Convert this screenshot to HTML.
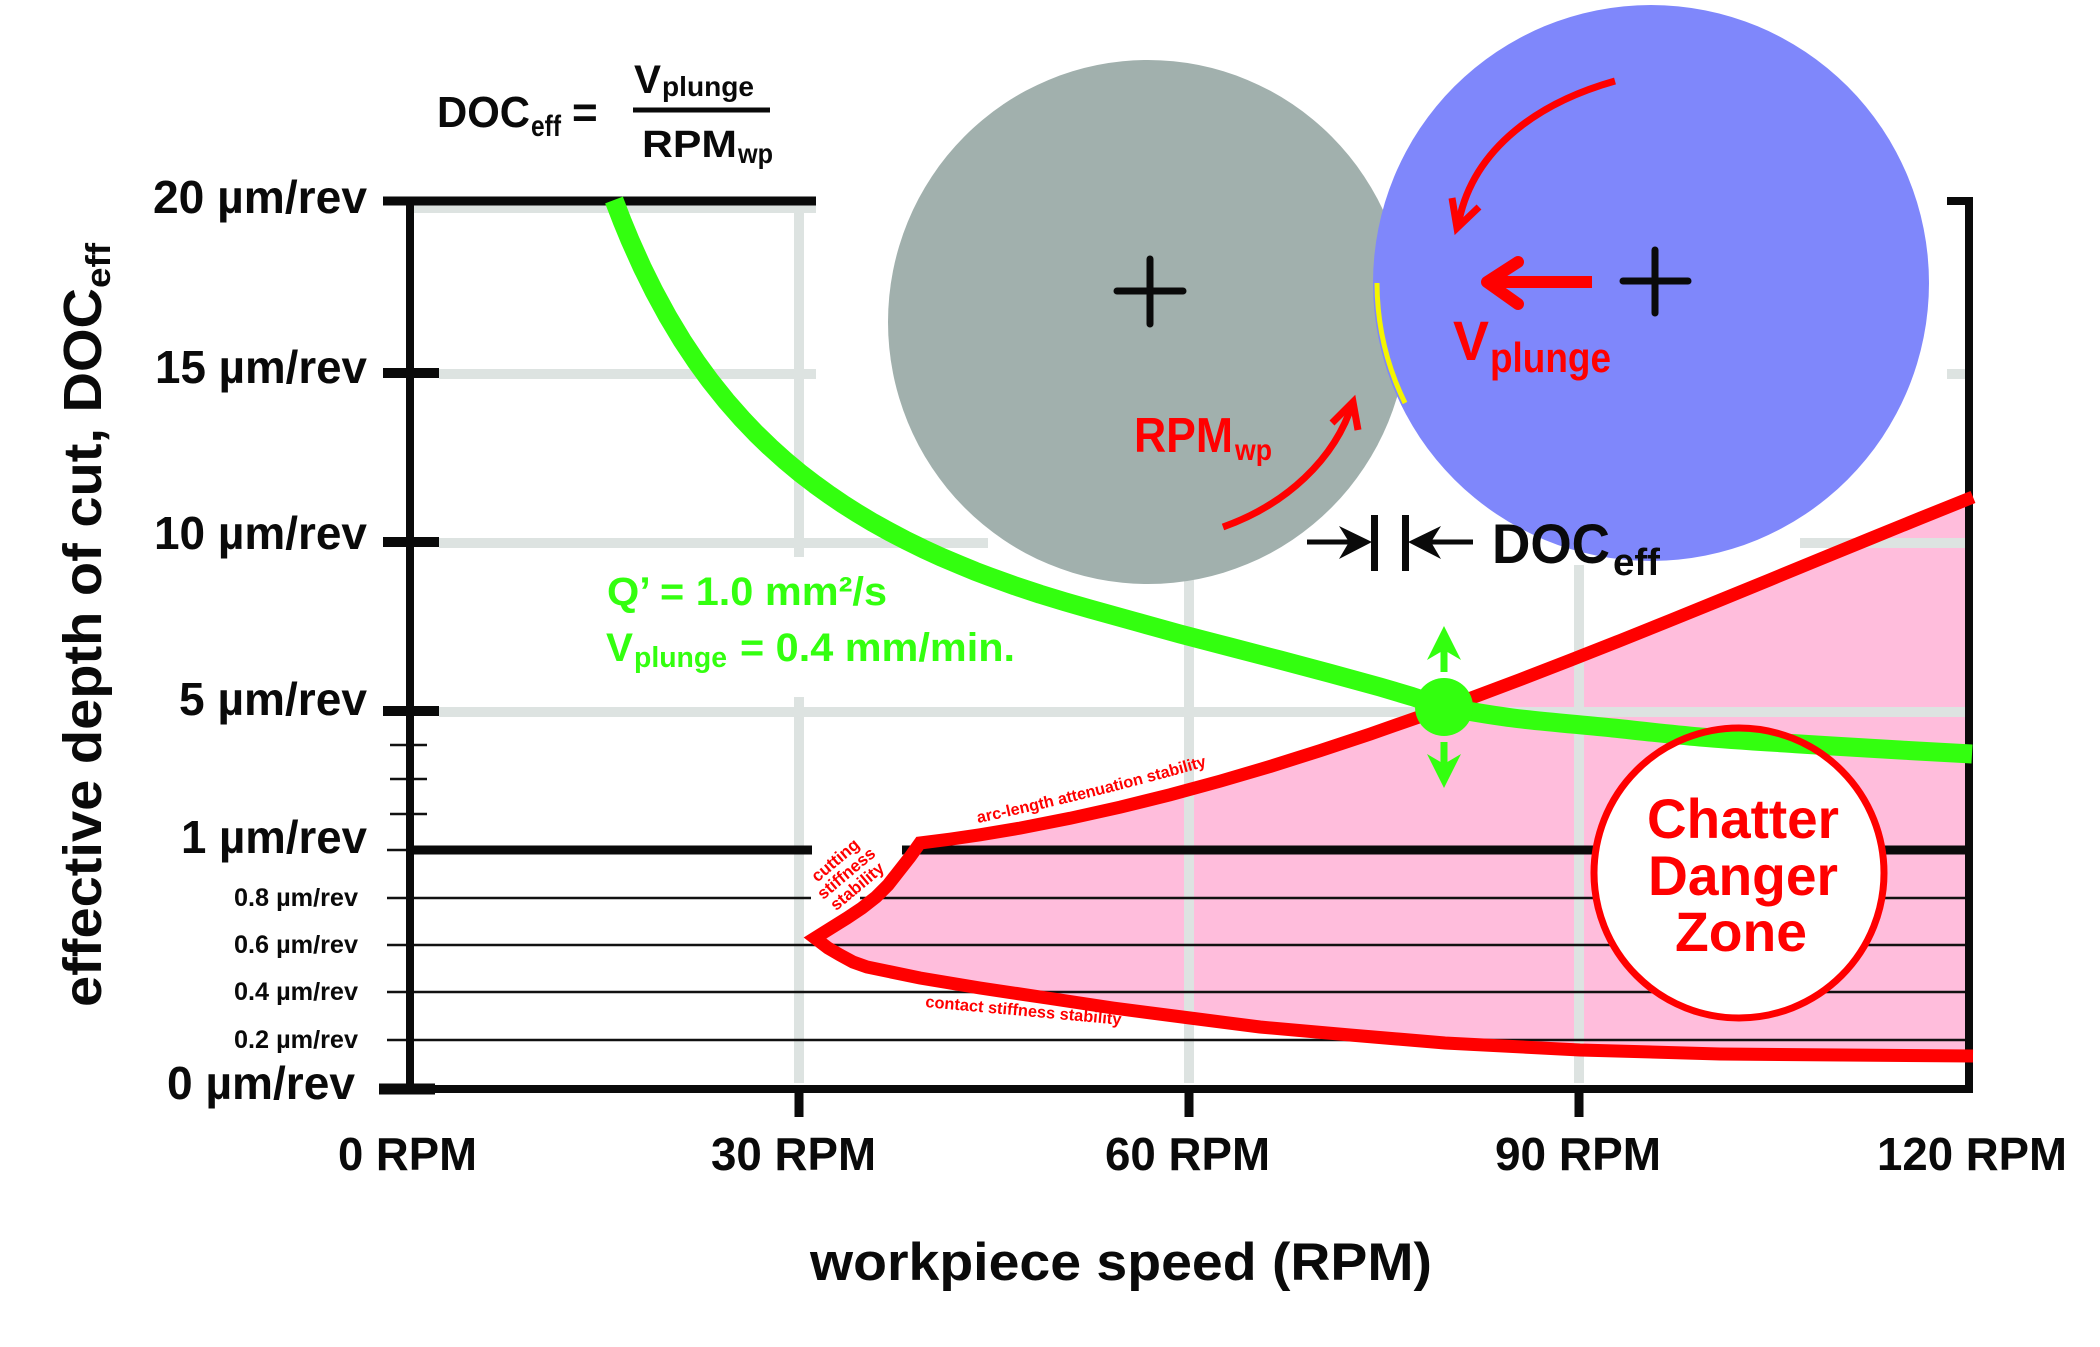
<!DOCTYPE html>
<html><head><meta charset="utf-8"><style>
html,body{margin:0;padding:0;background:#fff;}
svg{display:block;}
</style></head><body>
<svg width="2100" height="1347" viewBox="0 0 2100 1347" xmlns="http://www.w3.org/2000/svg" font-family="'Liberation Sans', Arial, sans-serif" font-weight="bold">
<rect width="2100" height="1347" fill="#fff"/>

<!-- pink danger fill -->
<path d="M815,938 L831,928 L847,918 L862,908 L876,897 L888,885 L899,871 L910,857 L920,843 L950,839.2 L980,834.8 L1020,828.1 L1070,818.3 L1120,807.2 L1170,794.8 L1220,781.2 L1270,766.5 L1320,750.7 L1370,734.1 L1420,716.6 L1470,698.5 L1520,679.7 L1570,660.3 L1620,640.6 L1670,620.5 L1720,600.2 L1770,579.7 L1820,559.1 L1870,538.7 L1920,518.3 L1965,500.4 L1965,1056 L1720,1054 L1580,1050 L1445,1043 L1350,1035 L1260,1027 L1190,1018 L1113,1008 L1047,998 L980,988 L920,978 L867,967 L853,962 L840,955 L828,948 Z" fill="#ffbddc"/>

<!-- gridlines -->
<g stroke="#dde3e1" stroke-width="10" fill="none">
<line x1="414" y1="208" x2="816" y2="208"/>
<line x1="439" y1="374" x2="816" y2="374"/>
<line x1="1947" y1="374" x2="1965" y2="374"/>
<line x1="439" y1="543" x2="988" y2="543"/>
<line x1="1800" y1="543" x2="1965" y2="543"/>
<line x1="439" y1="712" x2="1965" y2="712"/>
<line x1="799" y1="210" x2="799" y2="557"/>
<line x1="799" y1="697" x2="799" y2="1083"/>
<line x1="1189" y1="580" x2="1189" y2="1083"/>
<line x1="1579" y1="565" x2="1579" y2="1083"/>
</g>

<!-- thin lines lower region -->
<g stroke="#111" stroke-width="2.5">
<line x1="387" y1="898" x2="811" y2="898"/>
<line x1="860" y1="898" x2="1969" y2="898"/>
<line x1="387" y1="945" x2="1969" y2="945"/>
<line x1="387" y1="992" x2="1969" y2="992"/>
<line x1="387" y1="1040" x2="1969" y2="1040"/>
<line x1="390" y1="745" x2="427" y2="745"/>
<line x1="390" y1="779" x2="427" y2="779"/>
<line x1="390" y1="814" x2="427" y2="814"/>
<line x1="387" y1="850" x2="410" y2="850"/>
</g>

<!-- axes -->
<g stroke="#0a0a0a" fill="none">
<line x1="410" y1="197" x2="410" y2="1093" stroke-width="8"/>
<line x1="1969" y1="197" x2="1969" y2="1093" stroke-width="8"/>
<line x1="383" y1="201" x2="816" y2="201" stroke-width="9"/>
<line x1="1947" y1="201" x2="1973" y2="201" stroke-width="8"/>
<line x1="383" y1="373" x2="439" y2="373" stroke-width="10"/>
<line x1="383" y1="542" x2="439" y2="542" stroke-width="10"/>
<line x1="383" y1="711" x2="439" y2="711" stroke-width="10"/>
<line x1="379" y1="1089" x2="435" y2="1089" stroke-width="11"/>
<line x1="379" y1="1089" x2="1973" y2="1089" stroke-width="8"/>
<line x1="410" y1="850" x2="812" y2="850" stroke-width="9"/>
<line x1="902" y1="850" x2="1969" y2="850" stroke-width="9"/>
<line x1="799" y1="1089" x2="799" y2="1117" stroke-width="9"/>
<line x1="1189" y1="1089" x2="1189" y2="1117" stroke-width="9"/>
<line x1="1579" y1="1089" x2="1579" y2="1117" stroke-width="9"/>
</g>

<!-- circles -->
<ellipse cx="1148" cy="322" rx="260" ry="262" fill="#a1b0ad"/>
<circle cx="1651" cy="283" r="278" fill="#7f87fb"/>
<path d="M1377,283 A274,274 0 0 0 1405,403" stroke="#f5f500" stroke-width="5" fill="none"/>

<!-- crosses -->
<g stroke="#0a0a0a" stroke-width="7" stroke-linecap="round">
<line x1="1117" y1="291" x2="1183" y2="291"/>
<line x1="1150" y1="259" x2="1150" y2="324"/>
<line x1="1623" y1="281" x2="1688" y2="281"/>
<line x1="1655" y1="250" x2="1655" y2="313"/>
</g>

<!-- red arrows in circles -->
<g stroke="#ff0000" fill="none">
<path d="M1615,81 C1530,105 1470,155 1458,226" stroke-width="7"/>
<polyline points="1452,198 1457,228 1479,207" stroke-width="7"/>
<path d="M1223,527 C1285,505 1335,460 1353,402" stroke-width="7"/>
<polyline points="1332,423 1353,402 1358,430" stroke-width="7"/>
<line x1="1592" y1="282" x2="1492" y2="282" stroke-width="12"/>
<polyline points="1518,262 1487,282 1518,304" stroke-width="12" stroke-linecap="round" stroke-linejoin="round"/>
</g>

<!-- DOC arrows -->
<g fill="#0a0a0a" stroke="#0a0a0a">
<line x1="1307" y1="542" x2="1352" y2="542" stroke-width="5"/>
<polygon points="1372,542 1339,526 1349,542 1339,559" stroke="none"/>
<rect x="1371" y="515" width="7" height="56" stroke="none"/>
<rect x="1402" y="515" width="7" height="56" stroke="none"/>
<polygon points="1408,542 1441,526 1431,542 1441,559" stroke="none"/>
<line x1="1428" y1="542" x2="1473" y2="542" stroke-width="5"/>
</g>

<!-- red stability curves -->
<path d="M1973,497 L1920,518.3 L1870,538.7 L1820,559.1 L1770,579.7 L1720,600.2 L1670,620.5 L1620,640.6 L1570,660.3 L1520,679.7 L1470,698.5 L1420,716.6 L1370,734.1 L1320,750.7 L1270,766.5 L1220,781.2 L1170,794.8 L1120,807.2 L1070,818.3 L1020,828.1 L980,834.8 L950,839.2 L920,843 L910,857 L899,871 L888,885 L876,897 L862,908 L847,918 L831,928 L815,938 L828,948 L840,955 L853,962 L867,967 L920,978 L980,988 L1047,998 L1113,1008 L1190,1018 L1260,1027 L1350,1035 L1445,1043 L1580,1050 L1720,1054 L1973,1056" stroke="#ff0000" stroke-width="13" fill="none" stroke-linejoin="miter"/>

<!-- chatter circle fill -->
<circle cx="1739" cy="873" r="145" fill="#fff"/>

<!-- green curve -->
<g stroke="#33ff0f" stroke-width="19" fill="none" stroke-linejoin="round">
<polyline points="614,200 622,220.7 630,240.1 642,266.9 654,291.2 668,316.9 682,340.2 696,361.3 710,380.6 726,400.6 742,418.8 756,433.5 770,447 785,460.5 800,473 815,484.5 830,495.3 843,504.1 857,513 873,522.6 890,532 906,540.4 923,548.7 941,557 960,565 975,571.2 990,576.9 1015,585.9 1040,594.2 1065,601.8 1090,609 1135,621.5 1180,634 1230,647 1280,660 1330,673.3 1380,687 1412,696.5 1444,707"/>
<path d="M1444,707 C1455.5,708.8 1484.8,714.5 1513,718 C1541.2,721.5 1581.8,724.8 1613,728 C1644.2,731.2 1668.8,734.3 1700,737 C1731.2,739.7 1766.7,741.8 1800,744 C1833.3,746.2 1871.3,748.3 1900,750 C1928.7,751.7 1960,753.3 1972,754"/>
</g>
<circle cx="1444" cy="707" r="29" fill="#33ff0f"/>
<g fill="#33ff0f">
<polygon points="1444,626 1461,660 1444,650 1427,660"/>
<rect x="1440.5" y="648" width="7" height="24"/>
<polygon points="1444,788 1461,754 1444,764 1427,754"/>
<rect x="1440.5" y="742" width="7" height="24"/>
</g>

<!-- chatter circle stroke and text -->
<circle cx="1739" cy="873" r="145" fill="none" stroke="#ff0000" stroke-width="7"/>
<g fill="#ff0000" font-size="56">
<text x="1647" y="838" textLength="192" lengthAdjust="spacingAndGlyphs">Chatter</text>
<text x="1648" y="895" textLength="190" lengthAdjust="spacingAndGlyphs">Danger</text>
<text x="1675" y="951" textLength="132" lengthAdjust="spacingAndGlyphs">Zone</text>
</g>

<!-- stability labels -->
<defs><path id="arcp" d="M978,823 Q1100,797 1214,764"/></defs>
<text fill="#ff0000" font-size="16.2"><textPath href="#arcp">arc-length attenuation stability</textPath></text>
<text fill="#ff0000" font-size="16.4" transform="translate(925,1007) rotate(5.2)">contact stiffness stability</text>
<g fill="#ff0000" font-size="17" text-anchor="middle" transform="translate(846,873) rotate(-40)">
<text x="0" y="-11">cutting</text>
<text x="0" y="6">stiffness</text>
<text x="0" y="23">stability</text>
</g>

<!-- red labels in circles -->
<g fill="#ff0000">
<text x="1453" y="360" font-size="56" textLength="36" lengthAdjust="spacingAndGlyphs">V</text>
<text x="1490" y="372" font-size="42" textLength="121" lengthAdjust="spacingAndGlyphs">plunge</text>
<text x="1134" y="452" font-size="49" textLength="99" lengthAdjust="spacingAndGlyphs">RPM</text>
<text x="1235" y="460" font-size="30" textLength="37" lengthAdjust="spacingAndGlyphs">wp</text>
</g>

<!-- DOC eff label -->
<g fill="#0a0a0a">
<text x="1492" y="563" font-size="56" textLength="118" lengthAdjust="spacingAndGlyphs">DOC</text>
<text x="1613" y="575" font-size="38" textLength="47" lengthAdjust="spacingAndGlyphs">eff</text>
</g>

<!-- formula -->
<g fill="#0a0a0a">
<text x="437" y="127" font-size="44" textLength="93" lengthAdjust="spacingAndGlyphs">DOC</text>
<text x="531" y="136" font-size="30" textLength="30" lengthAdjust="spacingAndGlyphs">eff</text>
<text x="572" y="127" font-size="44">=</text>
<text x="634" y="93" font-size="40" textLength="27" lengthAdjust="spacingAndGlyphs">V</text>
<text x="662" y="96" font-size="28" textLength="92" lengthAdjust="spacingAndGlyphs">plunge</text>
<rect x="633" y="107.5" width="137" height="5"/>
<text x="642" y="157" font-size="38" textLength="95" lengthAdjust="spacingAndGlyphs">RPM</text>
<text x="738" y="163" font-size="28" textLength="35" lengthAdjust="spacingAndGlyphs">wp</text>
</g>

<!-- green annotation -->
<g fill="#33ff0f">
<text x="607" y="605" font-size="40" textLength="280" lengthAdjust="spacingAndGlyphs">Q’ = 1.0 mm²/s</text>
<text x="606" y="661" font-size="40" textLength="27" lengthAdjust="spacingAndGlyphs">V</text>
<text x="634" y="667" font-size="29" textLength="93" lengthAdjust="spacingAndGlyphs">plunge</text>
<text x="740" y="661" font-size="40" textLength="275" lengthAdjust="spacingAndGlyphs">= 0.4 mm/min.</text>
</g>

<!-- y tick labels -->
<g fill="#0a0a0a" font-size="46">
<text x="153" y="213" textLength="214" lengthAdjust="spacingAndGlyphs">20 µm/rev</text>
<text x="155" y="383" textLength="212" lengthAdjust="spacingAndGlyphs">15 µm/rev</text>
<text x="154" y="549" textLength="213" lengthAdjust="spacingAndGlyphs">10 µm/rev</text>
<text x="179" y="715" textLength="188" lengthAdjust="spacingAndGlyphs">5 µm/rev</text>
<text x="181" y="853" textLength="186" lengthAdjust="spacingAndGlyphs">1 µm/rev</text>
<text x="167" y="1099" textLength="188" lengthAdjust="spacingAndGlyphs">0 µm/rev</text>
</g>
<g fill="#0a0a0a" font-size="25">
<text x="234" y="906" textLength="124" lengthAdjust="spacingAndGlyphs">0.8 µm/rev</text>
<text x="234" y="953" textLength="124" lengthAdjust="spacingAndGlyphs">0.6 µm/rev</text>
<text x="234" y="1000" textLength="124" lengthAdjust="spacingAndGlyphs">0.4 µm/rev</text>
<text x="234" y="1048" textLength="124" lengthAdjust="spacingAndGlyphs">0.2 µm/rev</text>
</g>

<!-- x tick labels -->
<g fill="#0a0a0a" font-size="46">
<text x="338" y="1170" textLength="139" lengthAdjust="spacingAndGlyphs">0 RPM</text>
<text x="711" y="1170" textLength="165" lengthAdjust="spacingAndGlyphs">30 RPM</text>
<text x="1105" y="1170" textLength="165" lengthAdjust="spacingAndGlyphs">60 RPM</text>
<text x="1495" y="1170" textLength="166" lengthAdjust="spacingAndGlyphs">90 RPM</text>
<text x="1877" y="1170" textLength="190" lengthAdjust="spacingAndGlyphs">120 RPM</text>
</g>

<!-- axis titles -->
<text x="810" y="1280" font-size="53" fill="#0a0a0a" textLength="622" lengthAdjust="spacingAndGlyphs">workpiece speed (RPM)</text>
<g fill="#0a0a0a" transform="translate(101,1007) rotate(-90)">
<text x="0" y="0" font-size="54" textLength="719" lengthAdjust="spacingAndGlyphs">effective depth of cut, DOC</text>
<text x="719" y="9" font-size="34" textLength="45" lengthAdjust="spacingAndGlyphs">eff</text>
</g>
</svg>
</body></html>
